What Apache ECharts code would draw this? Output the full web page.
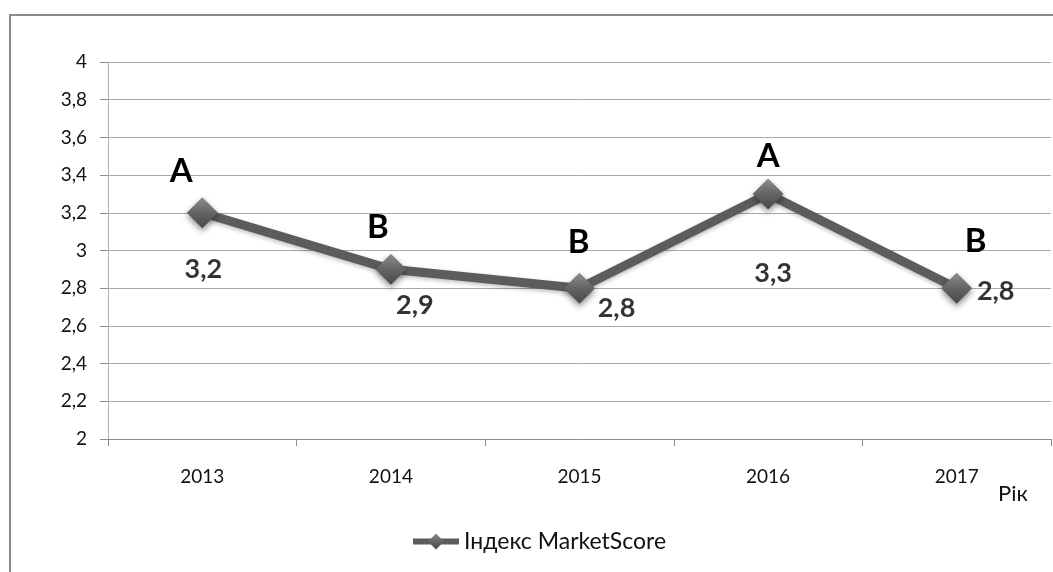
<!DOCTYPE html>
<html>
<head>
<meta charset="utf-8">
<script src="https://cdn.jsdelivr.net/npm/echarts@6/dist/echarts.min.js"></script>
<style>
  html, body { margin: 0; padding: 0; background: #fff; }
  #chart { width: 1053px; height: 572px; }
</style>
</head>
<body>
<div id="chart"></div>
<script>
// дані
var years = ['2013', '2014', '2015', '2016', '2017'];
var scores = [3.2, 2.9, 2.8, 3.3, 2.8];
var grades = ['A', 'B', 'B', 'A', 'B'];
var yTicks = [2, 2.2, 2.4, 2.6, 2.8, 3, 3.2, 3.4, 3.6, 3.8, 4];

// зсуви підписів відносно точки
var gradeOffsets = [[-21, -41], [-13, -42], [-1, -46], [0, -38], [19, -47]];
var valueOffsets = [[1, 56], [24, 36], [37, 20], [5, 79], [39, 3]];

var font = 'Lato, "Open Sans", sans-serif';

function fmt(v) {
  return String(v).replace('.', ',');
}

var lineData = [], valueData = [];
for (var i = 0; i < scores.length; i++) {
  lineData.push({
    value: scores[i],
    label: { offset: gradeOffsets[i] }
  });
  valueData.push({
    value: [years[i], scores[i]],
    label: { offset: valueOffsets[i] }
  });
}

var chart = echarts.init(document.getElementById('chart'));
chart.setOption({
  animation: false,
  textStyle: { fontFamily: font },
  graphic: [{
    type: 'rect',
    shape: { x: 10, y: 15, width: 1100, height: 620 },
    style: { fill: 'none', stroke: '#8a8a8a', lineWidth: 2 },
    silent: true
  }, {
    type: 'text',
    left: 998,
    top: 483,
    style: { text: 'Рік', font: '22px ' + font, fill: '#111' }
  }],
  grid: { left: 108, right: 2, top: 62, bottom: 133 },
  legend: {
    data: ['Індекс MarketScore'],
    bottom: 14,
    left: 405,
    itemWidth: 46,
    itemHeight: 20,
    itemGap: 4,
    lineStyle: { width: 6 },
    textStyle: { fontSize: 23, color: '#111', fontFamily: font }
  },
  xAxis: {
    type: 'category',
    data: years,
    boundaryGap: true,
    axisLine: { lineStyle: { color: '#8c8c8c', width: 1 } },
    axisTick: { show: true, length: 7, lineStyle: { color: '#8c8c8c' } },
    axisLabel: { fontSize: 19, color: '#111', margin: 28, fontFamily: font },
    splitLine: { show: false }
  },
  yAxis: {
    type: 'value',
    min: yTicks[0],
    max: yTicks[yTicks.length - 1],
    interval: 0.2,
    axisLine: { show: true, lineStyle: { color: '#b0b0b0' } },
    axisTick: { show: true, length: 8, lineStyle: { color: '#8c8c8c' } },
    axisLabel: {
      fontSize: 19, color: '#111', margin: 21, fontFamily: font,
      formatter: function (v) { return fmt(Math.round(v * 10) / 10); }
    },
    splitLine: { lineStyle: { color: '#a8a8a8', width: 1 } }
  },
  series: [{
    name: 'Індекс MarketScore',
    type: 'line',
    data: lineData,
    symbol: 'diamond',
    symbolSize: 31,
    z: 3,
    lineStyle: {
      color: '#5c5c5c',
      width: 9,
      shadowColor: 'rgba(0,0,0,0.25)',
      shadowBlur: 4,
      shadowOffsetY: 2
    },
    itemStyle: {
      color: new echarts.graphic.LinearGradient(0, 0, 0, 1, [
        { offset: 0, color: '#8e8e8e' },
        { offset: 0.5, color: '#646464' },
        { offset: 1, color: '#484848' }
      ]),
      borderWidth: 0,
      shadowColor: 'rgba(0,0,0,0.45)',
      shadowBlur: 6,
      shadowOffsetY: 3
    },
    label: {
      show: true,
      position: 'inside',
      align: 'center',
      verticalAlign: 'middle',
      fontSize: 33,
      fontWeight: 'bold',
      color: '#000',
      fontFamily: font,
      formatter: function (p) { return grades[p.dataIndex]; }
    },
    emphasis: { disabled: true }
  }, {
    name: 'values',
    type: 'scatter',
    data: valueData,
    symbol: 'circle',
    symbolSize: 30,
    itemStyle: { color: 'rgba(0,0,0,0)' },
    silent: true,
    z: 4,
    label: {
      show: true,
      position: 'inside',
      align: 'center',
      verticalAlign: 'middle',
      fontSize: 27,
      fontWeight: 'bold',
      color: '#000',
      fontFamily: font,
      formatter: function (p) { return fmt(p.value[1]); }
    }
  }]
});
</script>
</body>
</html>
